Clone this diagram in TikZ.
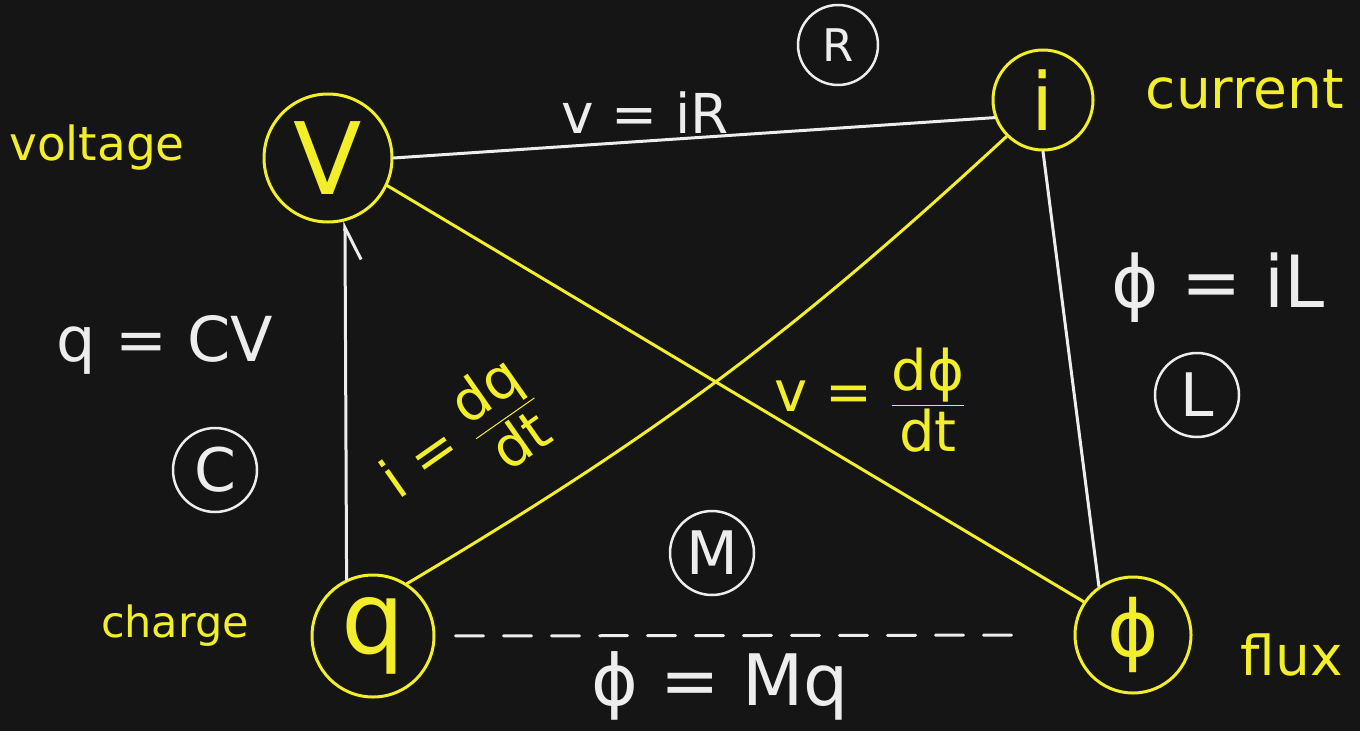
\documentclass[tikz,border=0pt]{standalone}
\usepackage{fontspec}
\setmainfont{DejaVu Sans}
\usepackage{amsmath}
\usetikzlibrary{positioning, arrows.meta}
\definecolor{BoardBg}{HTML}{151515}
\definecolor{ChalkYellow}{HTML}{F2EE2A}
\definecolor{ChalkWhite}{HTML}{EDEDED}

\begin{document}
\begin{tikzpicture}[
        x=1pt, y=-1pt,
        qty/.style={circle, draw=ChalkYellow, line width=3pt, text=ChalkYellow, inner sep=0pt},
        elem/.style={circle, draw=ChalkWhite, line width=2.5pt, text=ChalkWhite, inner sep=0pt, minimum size=84pt, font=\fontsize{60}{62}\selectfont},
        tag/.style={text=ChalkYellow, inner sep=0pt},
        eqn/.style={text=ChalkWhite, inner sep=0pt},
        eqnY/.style={text=ChalkYellow, inner sep=0pt},
        wline/.style={draw=ChalkWhite, line width=3pt, line cap=round},
        yline/.style={draw=ChalkYellow, line width=3pt, line cap=round}
    ]

    % --- BOARD ---
    \fill[BoardBg] (0,0) rectangle (1360,731);
    \useasboundingbox (0,0) rectangle (1360,731);

    % --- QUANTITIES ---
    \node[qty, minimum size=128pt, font=\fontsize{100}{100}\selectfont] (nodeV) at (328,158) {V};
    \node[qty, minimum size=100pt, font=\fontsize{80}{80}\selectfont] (nodeI) at (1043,100) {i};
    \node[qty, minimum size=122pt, font=\fontsize{100}{100}\selectfont] (nodeQ) at (373,636) {q};
    \node[qty, minimum size=116pt, font=\fontsize{78}{78}\selectfont] (nodePhi) at (1133,635) {ϕ};

    \node[tag, font=\fontsize{47}{50}\selectfont] (tagV) at (97,148) {voltage};
    \node[tag, font=\fontsize{55}{58}\selectfont] (tagI) at (1245,90) {current};
    \node[tag, font=\fontsize{43}{46}\selectfont] (tagQ) at (175,626) {charge};
    \node[tag, font=\fontsize{55}{58}\selectfont] (tagPhi) at (1292,655) {flux};

    % --- ELEMENTS ---
    \node[elem, minimum size=80pt, font=\fontsize{45}{48}\selectfont] (elemR) at (838,45) {R};
    \node[elem] (elemC) at (215,470) {C};
    \node[elem] (elemL) at (1197,395) {L};
    \node[elem] (elemM) at (712,553) {M};

    \node[eqn, font=\fontsize{55}{58}\selectfont] (eqR) at (645,113) {v = iR};
    \node[eqn, font=\fontsize{62}{64}\selectfont] (eqC) at (165,345) {q = CV};
    \node[eqn, font=\fontsize{72}{74}\selectfont] (eqL) at (1218,288) {ϕ = iL};
    \node[eqn, font=\fontsize{71}{74}\selectfont] (eqM) at (720,686) {ϕ = Mq};

    \node[eqnY, rotate=35, font=\fontsize{56}{58}\selectfont] (eqI) at (462,442) {i = $\dfrac{\text{dq}}{\text{dt}}$};
    \node[eqnY, font=\fontsize{56}{58}\selectfont] (eqV) at (870,400) {v = $\dfrac{\text{dϕ}}{\text{dt}}$};

    % --- CONNECTORS ---
    \draw[wline] (nodeV.0) -- (nodeI.200);
    \draw[wline, -{Straight Barb[harpoon, swap, length=32pt, width=32pt]}] (nodeQ.115) -- (nodeV.-75);
    \draw[wline] (nodeI.south) -- (nodePhi.125);
    \draw[wline, dash pattern=on 28pt off 20pt, shorten <=20pt, shorten >=55pt] (nodeQ.east) -- (nodePhi.west);

    \draw[yline] (nodeV.-25) -- (nodePhi.146);
    \draw[yline] (nodeQ.57) to[bend right=6] (nodeI.225);

\end{tikzpicture}
\end{document}
